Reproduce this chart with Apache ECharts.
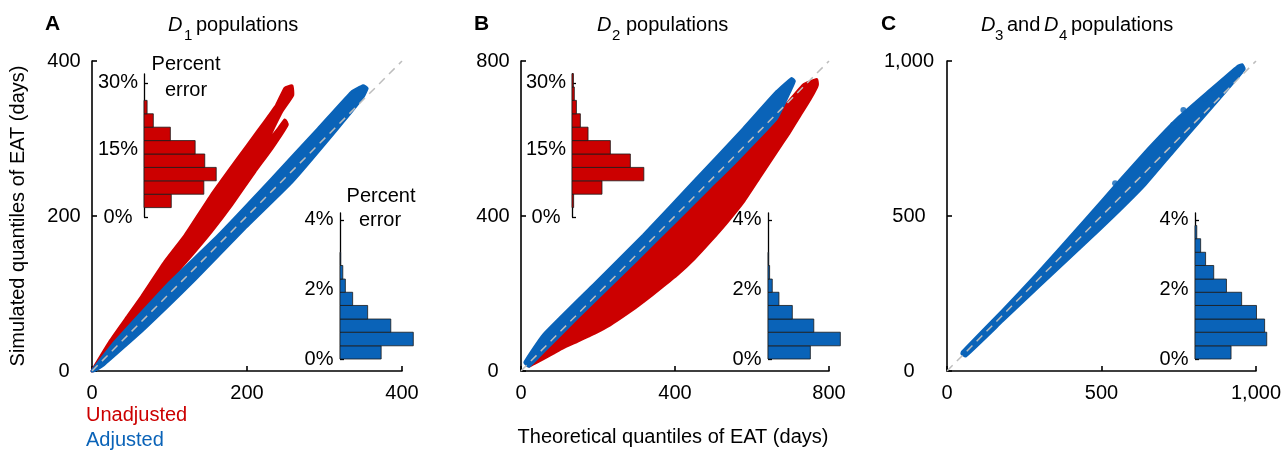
<!DOCTYPE html>
<html>
<head>
<meta charset="utf-8">
<script src="https://cdn.jsdelivr.net/npm/echarts@6/dist/echarts.min.js"></script>
<style>
  html, body { margin: 0; padding: 0; background: #fff; }
  #chart { width: 1286px; height: 452px; }
</style>
</head>
<body>
<div id="chart"></div>
<script>
// --- data ---
// band outlines of the quantile-quantile clouds, [theoretical, simulated] in days
const aRedBand = [[0,0],[23,38],[47,72],[64,96],[94,141],[120,175],[154,227],[185,270],[215,311],[238,343],[249,365],[258,368],[259,356],[245,335],[232,309],[225,294],[240,312],[249,324],[252,318],[232,287],[210,257],[180,214],[154,180],[129,150],[103,120],[77,89],[51,55],[25,25],[5,4]]
const aBlueBand = [[0,0],[30,38],[98,112],[163,175],[232,248],[292,313],[335,360],[350,368],[355,365],[350,354],[316,312],[258,244],[197,184],[133,118],[68,55],[15,8],[2,0]]
const bBlueBand = [[10,22],[58,93],[188,222],[318,351],[448,488],[578,626],[664,721],[703,755],[710,748],[700,725],[664,652],[560,543],[491,475],[400,385],[300,286],[145,136],[60,52],[20,12]]
const bRedBand = [[18,14],[60,54],[145,140],[300,290],[400,390],[491,480],[560,548],[664,658],[733,738],[768,752],[770,740],[768,733],[750,700],[725,660],[695,612],[664,566],[620,500],[578,437],[535,384],[491,334],[450,290],[405,248],[360,212],[318,179],[275,148],[231,119],[190,97],[145,76],[110,60],[84,46],[58,32],[36,20],[22,13]]
const cBlueBand = [[50,62],[180,195],[290,312],[447,487],[560,615],[650,715],[750,818],[850,905],[940,982],[955,988],[962,975],[930,935],[830,820],[730,705],[640,600],[540,500],[447,412],[300,275],[180,162],[60,48],[48,56]]
const cOutliers = [[544,606],[765,842],[835,880],[732,794]]

// percent error histograms: bin edges (%) and relative frequency (%)
const redBinEdges = [2.1, 5.1, 8.1, 11.1, 14.1, 17.1, 20.1, 23.1, 26.1, 29.1, 32.1]
const blueBinEdges = [0, 0.38, 0.77, 1.15, 1.54, 1.92, 2.30, 2.69, 3.07, 3.46, 3.84]
const aRedFreq = [8.8, 19.3, 23.3, 19.6, 16.5, 8.5, 3.0, 1.0]
const bRedFreq = [0.7, 12.9, 30.9, 25.1, 16.5, 6.9, 3.6, 1.9, 1.0, 0.6]
const aBlueFreq = [19.2, 34.2, 23.7, 12.9, 5.9, 2.5, 1.3, 0.3]
const bBlueFreq = [20.9, 35.7, 22.6, 12.0, 5.4, 2.1, 0.8, 0.3]
const cBlueFreq = [10.2, 20.3, 19.7, 17.4, 13.2, 8.9, 5.3, 3.0, 1.6, 0.5]

const axisMax = [400, 800, 1000]
const axisStep = [200, 400, 500]
const redTicks = [0, 15, 30]
const blueTicks = [0, 2, 4]

// --- styling ---
const RED = '#cc0000'
const BLUE = '#0a63b8'
const FONT = '"Liberation Sans", Arial, sans-serif'

const chart = echarts.init(document.getElementById('chart'))

const mainGrids = [
  { left: 92, top: 61, width: 310, height: 310 },
  { left: 521, top: 61, width: 308, height: 310 },
  { left: 947, top: 61, width: 309, height: 310 },
]
// inset histograms
const insets = [
  { grid: { left: 144, top: 74, width: 93, height: 143 }, yMax: 32, xMax: 30, ticks: redTicks, margin: 26 },
  { grid: { left: 340, top: 213, width: 93, height: 146 }, yMax: 4.2, xMax: 43.4, ticks: blueTicks, margin: 21 },
  { grid: { left: 572, top: 74, width: 93, height: 143 }, yMax: 32, xMax: 40, ticks: redTicks, margin: 26 },
  { grid: { left: 768, top: 213, width: 93, height: 146 }, yMax: 4.2, xMax: 45.9, ticks: blueTicks, margin: 21 },
  { grid: { left: 1195, top: 213, width: 93, height: 146 }, yMax: 4.2, xMax: 25.75, ticks: blueTicks, margin: 21 },
]

const black = { color: '#000', width: 1.6 }

const xAxes = mainGrids.map((g, i) => ({
  type: 'value', gridIndex: i, min: 0, max: axisMax[i], interval: axisStep[i],
  axisLine: { lineStyle: black },
  axisTick: { inside: true, length: 5, lineStyle: black },
  splitLine: { show: false },
  axisLabel: { fontSize: 20, fontFamily: FONT, color: '#000', margin: 12,
    formatter: v => v.toLocaleString('en-US') },
}))
const yAxes = mainGrids.map((g, i) => ({
  type: 'value', gridIndex: i, min: 0, max: axisMax[i], interval: axisStep[i],
  axisLine: { lineStyle: black },
  axisTick: { inside: true, length: 5, lineStyle: black },
  splitLine: { show: false },
  axisLabel: { fontSize: 20, fontFamily: FONT, color: '#000', align: 'center',
    margin: i === 2 ? 38 : 28, formatter: v => v.toLocaleString('en-US') },
}))
insets.forEach((h, k) => {
  const gi = 3 + k
  xAxes.push({ type: 'value', gridIndex: gi, min: 0, max: h.xMax, show: false })
  yAxes.push({
    type: 'value', gridIndex: gi, min: 0, max: h.yMax,
    axisLine: { lineStyle: { color: '#000', width: 1.3 } },
    axisTick: { inside: true, length: 4, customValues: h.ticks, lineStyle: { color: '#000', width: 1.3 } },
    splitLine: { show: false },
    axisLabel: { customValues: h.ticks, fontSize: 20, fontFamily: FONT, color: '#000',
      align: 'center', margin: h.margin, formatter: v => v + '%' },
  })
})

const band = (name, pts, color, idx, z) => ({
  type: 'custom', name, xAxisIndex: idx, yAxisIndex: idx, z, silent: true,
  data: pts,
  renderItem: (params, api) => params.dataIndex !== 0 ? null : {
    type: 'polygon',
    shape: { points: pts.map(p => api.coord(p)), smooth: 0.12 },
    style: { fill: color, stroke: color, lineWidth: 3, lineJoin: 'round' },
  },
})

const hist = (edges, freq, color, idx) => ({
  type: 'custom', xAxisIndex: idx, yAxisIndex: idx, z: 4, silent: true,
  data: freq.map((f, i) => [edges[i], edges[i + 1], f]),
  encode: { x: 2, y: [0, 1] },
  renderItem: (params, api) => {
    const p0 = api.coord([0, api.value(0)])
    const p1 = api.coord([api.value(2), api.value(1)])
    return {
      type: 'rect',
      shape: { x: p0[0], y: p1[1], width: p1[0] - p0[0], height: p0[1] - p1[1] },
      style: { fill: color, stroke: '#1a1a1a', lineWidth: 0.8 },
    }
  },
})

const diagonal = idx => ({
  type: 'line', xAxisIndex: idx, yAxisIndex: idx, z: 6, silent: true, symbol: 'none',
  data: [[0, 0], [axisMax[idx], axisMax[idx]]],
  lineStyle: { color: '#bdbdbd', width: 1.5, type: [8, 6] },
})

const series = [
  band('Unadjusted', aRedBand, RED, 0, 2),
  band('Adjusted', aBlueBand, BLUE, 0, 3),
  band('Unadjusted', bRedBand, RED, 1, 2),
  band('Adjusted', bBlueBand, BLUE, 1, 3),
  band('Adjusted', cBlueBand, BLUE, 2, 3),
  { type: 'scatter', name: 'Adjusted', xAxisIndex: 2, yAxisIndex: 2, z: 3, silent: true,
    data: cOutliers, symbolSize: 6, itemStyle: { color: BLUE } },
  diagonal(0), diagonal(1), diagonal(2),
  hist(redBinEdges, aRedFreq, RED, 3),
  hist(blueBinEdges, aBlueFreq, BLUE, 4),
  hist(redBinEdges, bRedFreq, RED, 5),
  hist(blueBinEdges, bBlueFreq, BLUE, 6),
  hist(blueBinEdges, cBlueFreq, BLUE, 7),
]

const txt = (text, x, y, extra) => ({
  type: 'text', x, y, silent: true,
  style: Object.assign({ text, font: '20px ' + FONT, fill: '#000', textVerticalAlign: 'middle' }, extra),
})

const graphic = [
  txt('A', 45, 24, { font: 'bold 21px ' + FONT }),
  txt('B', 474, 24, { font: 'bold 21px ' + FONT }),
  txt('C', 881, 24, { font: 'bold 21px ' + FONT }),
  txt('D', 168, 25, { font: 'italic 20px ' + FONT }),
  txt('1', 184, 36, { font: '15px ' + FONT }),
  txt('populations', 196, 25),
  txt('D', 597, 25, { font: 'italic 20px ' + FONT }),
  txt('2', 612, 36, { font: '15px ' + FONT }),
  txt('populations', 626, 25),
  txt('D', 981, 25, { font: 'italic 20px ' + FONT }),
  txt('3', 995, 36, { font: '15px ' + FONT }),
  txt('and', 1007, 25),
  txt('D', 1044, 25, { font: 'italic 20px ' + FONT }),
  txt('4', 1059, 36, { font: '15px ' + FONT }),
  txt('populations', 1071, 25),
  txt('Percent', 186, 64, { textAlign: 'center' }),
  txt('error', 186, 90, { textAlign: 'center' }),
  txt('Percent', 381, 196, { textAlign: 'center' }),
  txt('error', 380, 220, { textAlign: 'center' }),
  txt('Unadjusted', 86, 415, { fill: RED }),
  txt('Adjusted', 86, 440, { fill: BLUE }),
  txt('Theoretical quantiles of EAT (days)', 673, 437, { textAlign: 'center' }),
  { type: 'text', x: 18, y: 216, rotation: Math.PI / 2, silent: true,
    style: { text: 'Simulated quantiles of EAT (days)', font: '20px ' + FONT, fill: '#000',
      textAlign: 'center', textVerticalAlign: 'middle' } },
]

chart.setOption({
  animation: false,
  backgroundColor: '#fff',
  grid: [...mainGrids, ...insets.map(h => h.grid)],
  xAxis: xAxes,
  yAxis: yAxes,
  graphic,
  series,
})

window.addEventListener('resize', () => chart.resize())
</script>
</body>
</html>
